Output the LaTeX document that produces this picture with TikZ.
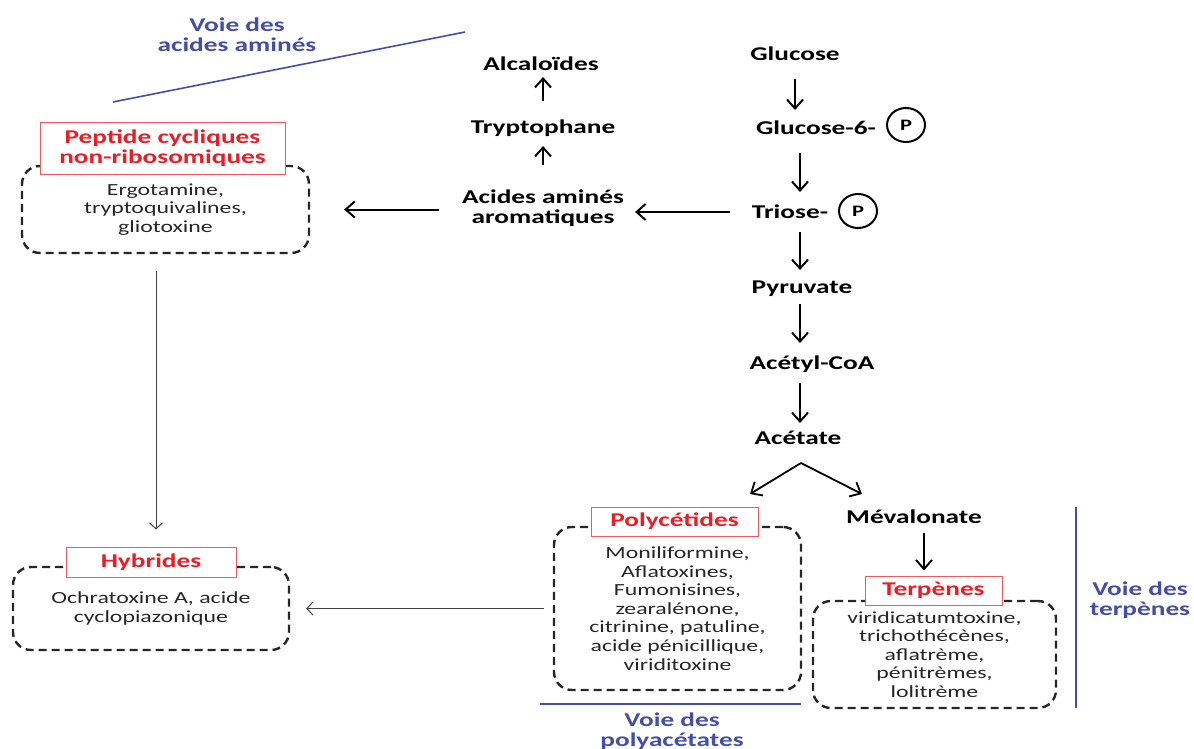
\documentclass[tikz,border=0pt]{standalone}
\usepackage{fontspec}
\setmainfont{Carlito}[FakeStretch=1.4]
\usetikzlibrary{arrows.meta,shapes.geometric}
\definecolor{voie}{RGB}{68,78,168}
\definecolor{rouge}{RGB}{236,28,36}
\definecolor{cadre}{RGB}{240,90,90}
\begin{document}
\begin{tikzpicture}[x=1pt,y=-1pt,
  met/.style={font=\fontsize{19.5}{20}\selectfont\bfseries, align=center, inner sep=2pt},
  pho/.style={draw, ellipse, line width=2pt, minimum width=38pt, minimum height=34pt, inner sep=0pt, font=\fontsize{16}{16}\selectfont\bfseries},
  voietxt/.style={font=\fontsize{19.5}{20}\selectfont\bfseries, text=voie, align=center},
  famille/.style={draw=cadre, fill=white, line width=1pt, text=rouge, font=\fontsize{19.5}{20}\selectfont\bfseries, align=center, inner sep=0pt},
  groupe/.style={draw=black!85, line width=2.4pt, dash pattern=on 8pt off 5pt, rounded corners=18pt, align=center, font=\fontsize{17}{18.6}\selectfont, text=black!85},
  arr/.style={line width=2pt, -{Straight Barb[length=9pt,width=16pt]}},
  fin/.style={line width=1pt, black!75, -{Straight Barb[length=6pt,width=13pt]}},
  voieline/.style={draw=voie, line width=1.6pt}]
  \useasboundingbox (0,0) rectangle (1194,749);

  % voie centrale
  \node[met] (glc) at (795,54) {Glucose};
  \node[met] (g6p) at (816,128) {Glucose-6-};
  \node[pho] (p1) at (906,125) {P};
  \node[met] (tri) at (790,212) {Triose-};
  \node[pho] (p2) at (858,211) {P};
  \node[met] (pyr) at (802,289) {Pyruvate};
  \node[met] (aca) at (812,364) {Acétyl-CoA};
  \node[met] (ace) at (798,438) {Acétate};
  \node[met] (mev) at (914,517) {Mévalonate};
  \coordinate (axe) at (800,0);
  \coordinate (fk) at (801,463);
  \coordinate (fkl) at (750,494);
  \coordinate (fkr) at (862,494);
  \coordinate (mv) at (924,0);

  % acides aminés
  \node[met] (aaa) at (543,208) {Acides aminés\\aromatiques};
  \node[met] (trp) at (543,128) {Tryptophane};
  \node[met] (alc) at (541,64) {Alcaloïdes};

  % groupes
  \node[groupe, minimum width=287pt, minimum height=87pt] (pepbox) at (165.5,209.5) {Ergotamine,\\tryptoquivalines,\\gliotoxine};
  \node[famille, minimum width=245pt, minimum height=51pt] (pep) at (162.5,148.5) {Peptide cycliques\\non-ribosomiques};
  \node[groupe, minimum width=276pt, minimum height=83pt] (hybbox) at (151,608.5) {Ochratoxine A, acide\\cyclopiazonique};
  \node[famille, minimum width=170pt, minimum height=30pt] (hyb) at (151,562) {Hybrides};
  \node[groupe, minimum width=247pt, minimum height=163pt] (pkbox) at (677.5,608.5) {Moniliformine,\\Aflatoxines,\\Fumonisines,\\zearalénone,\\citrinine, patuline,\\acide pénicillique,\\viriditoxine};
  \node[famille, minimum width=167pt, minimum height=29pt] (pk) at (674.5,521.5) {Polycétides};
  \node[groupe, minimum width=243pt, minimum height=107pt] (terbox) at (934.5,654.5) {viridicatumtoxine,\\trichothécènes,\\aflatrème,\\pénitrèmes,\\lolitrème};
  \node[famille, minimum width=137pt, minimum height=29pt] (ter) at (933.5,590.5) {Terpènes};

  % voies
  \node[voietxt] (v1) at (237,35) {Voie des\\acides aminés};
  \coordinate (v1a) at (113,102);
  \coordinate (v1b) at (465,32);
  \node[voietxt] (v2) at (1140,600) {Voie des\\terpènes};
  \coordinate (v2a) at (1076,507);
  \coordinate (v2b) at (1076,708);
  \node[voietxt] (v3) at (672,731) {Voie des\\polyacétates};
  \coordinate (v3a) at (540,704);
  \coordinate (v3b) at (801,704);
  \draw[voieline] (v1a) -- (v1b);
  \draw[voieline] (v2a) -- (v2b);
  \draw[voieline] (v3a) -- (v3b);

  \draw[arr, shorten <=16pt, shorten >=18pt] (glc) -- (glc |- g6p);
  \draw[arr, shorten <=25pt, shorten >=20pt] (axe |- g6p) -- (axe |- tri);
  \draw[arr, shorten <=20pt, shorten >=19pt] (axe |- tri) -- (axe |- pyr);
  \draw[arr, shorten <=15pt, shorten >=21pt] (axe |- pyr) -- (axe |- aca);
  \draw[arr, shorten <=19pt, shorten >=15pt] (axe |- aca) -- (axe |- ace);
  \draw[arr, line width=1.8pt] (fk) -- (fkl);
  \draw[arr, line width=1.8pt] (fk) -- (fkr);
  \draw[arr, shorten <=16pt, shorten >=20pt] (mv |- mev) -- (mv |- ter);
  \draw[arr, shorten <=20pt, shorten >=9pt] (tri.west) -- (tri.west -| aaa.east);
  \draw[arr, shorten <=22pt, shorten >=18pt] (aaa.north) -- (aaa.north |- trp);
  \draw[arr, shorten <=16pt, shorten >=13pt] (trp) -- (trp |- alc);
  \draw[arr, shorten <=21pt, shorten >=34pt] (aaa.west |- pepbox) -- (pepbox.east);
  \draw[fin, shorten <=17pt, shorten >=17pt] (pepbox.south -| 156,0) -- (hyb.north -| 156,0);
  \draw[fin, shorten <=9pt, shorten >=16pt] (pkbox.west) -- (hybbox.east);
\end{tikzpicture}
\end{document}
